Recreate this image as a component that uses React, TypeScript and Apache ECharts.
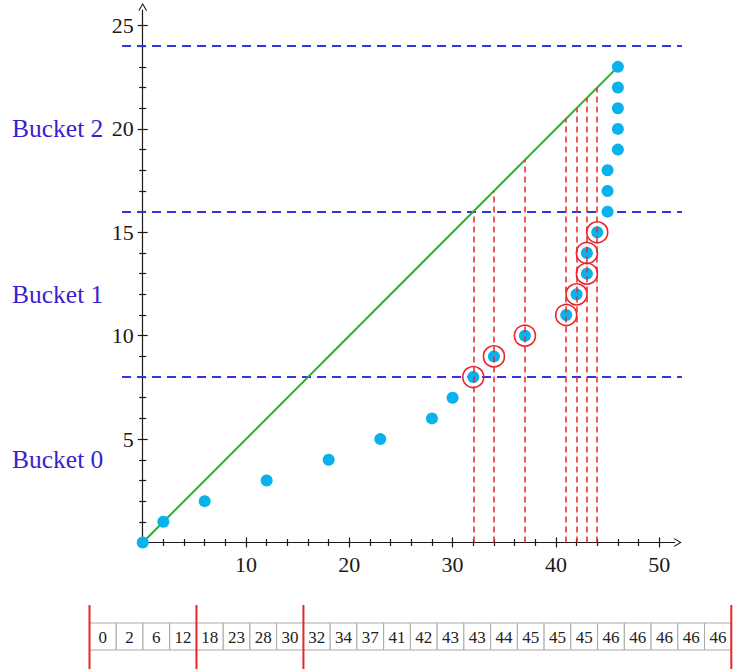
import React, { useEffect, useRef } from 'react';
import * as echarts from 'echarts';

// Sorted input values (also shown in the table below the chart)
const sortedValues = [0, 2, 6, 12, 18, 23, 28, 30, 32, 34, 37, 41, 42, 43, 43, 44, 45, 45, 45, 46, 46, 46, 46, 46];
// indices of the circled points
const circledIndices = [8, 9, 10, 11, 12, 13, 14, 15];
// bucket boundaries (horizontal dashed lines)
const bucketBounds = [8, 16, 24];
const bucketLabels = ['Bucket 0', 'Bucket 1', 'Bucket 2'];
const bucketLabelY = [4, 12, 20];
// red split lines in the table (cell positions)
const tableSplits = [0, 4, 8, 24];
// axis ticks / labels
const xMinorTicks = [0, 2, 4, 6, 8, 12, 14, 16, 18, 22, 24, 26, 28, 32, 34, 36, 38, 42, 44, 46, 48];
const xLabelValues = [10, 20, 30, 40, 50];
const yMinorTicks = [0, 1, 2, 3, 4, 6, 7, 8, 9, 11, 12, 13, 14, 16, 17, 18, 19, 21, 22, 23, 24];
const yLabelValues = [5, 10, 15, 20, 25];

const X_MAX = 51.5;
const Y_MAX = 25.75;
const H_LINE_START = -2;
const H_LINE_END = 52.2;

const CHEVRON = 'path://M5,0 L10,8.6 L9,9.4 L5,2.4 L1,9.4 L0,8.6 Z';

export default function App() {
  const ref = useRef<HTMLDivElement>(null);

  useEffect(() => {
    if (!ref.current) return;
    const chart = echarts.init(ref.current, null, { renderer: 'svg' });

    const points = sortedValues.map((v, i) => [v, i]);
    const lastIdx = sortedValues.length - 1;
    const slope = lastIdx / sortedValues[lastIdx];
    const circled = circledIndices.map((i) => [sortedValues[i], i]);
    const dashXs = Array.from(new Set(circledIndices.map((i) => sortedValues[i])));

    const axisColor = '#1a1a1a';
    const serif = '"Liberation Serif", serif';
    const tickStyle = { color: axisColor, width: 1.2 };

    const tickAxis = (gridIndex: number, pos: string, max: number, values: number[], inside: boolean, len: number) => ({
      gridIndex,
      type: 'value',
      position: pos,
      min: 0,
      max,
      axisLine: { show: false },
      axisTick: { show: true, inside, customValues: values, length: len, lineStyle: tickStyle },
      axisLabel: { show: false },
      splitLine: { show: false },
    });

    const option: any = {
      animation: false,
      backgroundColor: '#ffffff',
      grid: [
        { left: 142.7, top: 10, width: 532, height: 532.5, containLabel: false },
        { left: 89.5, top: 623, width: 641.8, height: 27, containLabel: false },
      ],
      xAxis: [
        {
          gridIndex: 0,
          type: 'value',
          position: 'bottom',
          min: 0,
          max: X_MAX,
          axisLine: {
            show: true,
            symbol: ['none', CHEVRON],
            symbolSize: [9, 8],
            symbolOffset: [0, 3],
            lineStyle: { color: axisColor, width: 1.2 },
          },
          axisTick: { show: true, customValues: xLabelValues, length: 5, lineStyle: tickStyle },
          axisLabel: {
            customValues: xLabelValues,
            margin: 11,
            fontSize: 22,
            fontFamily: serif,
            color: axisColor,
          },
          splitLine: { show: false },
        },
        tickAxis(0, 'bottom', X_MAX, xLabelValues, true, 5),
        tickAxis(0, 'bottom', X_MAX, xMinorTicks, false, 3.5),
        tickAxis(0, 'bottom', X_MAX, xMinorTicks, true, 3.5),
        { gridIndex: 1, type: 'value', min: 0, max: sortedValues.length, show: false },
      ],
      yAxis: [
        {
          gridIndex: 0,
          type: 'value',
          position: 'left',
          min: 0,
          max: Y_MAX,
          axisLine: {
            show: true,
            symbol: ['none', CHEVRON],
            symbolSize: [9, 8],
            symbolOffset: [0, 3],
            lineStyle: { color: axisColor, width: 1.2 },
          },
          axisTick: { show: true, customValues: yLabelValues, length: 5, lineStyle: tickStyle },
          axisLabel: {
            customValues: yLabelValues,
            margin: 9,
            fontSize: 22,
            fontFamily: serif,
            color: axisColor,
          },
          splitLine: { show: false },
        },
        tickAxis(0, 'left', Y_MAX, yLabelValues, true, 5),
        tickAxis(0, 'left', Y_MAX, yMinorTicks, false, 3.5),
        tickAxis(0, 'left', Y_MAX, yMinorTicks, true, 3.5),
        { gridIndex: 1, type: 'value', min: 0, max: 1, show: false },
      ],
      series: [
        {
          name: 'buckets',
          type: 'lines',
          coordinateSystem: 'cartesian2d',
          xAxisIndex: 0,
          yAxisIndex: 0,
          clip: false,
          silent: true,
          z: 2,
          lineStyle: { color: '#3232e6', width: 2, type: [9, 6], opacity: 1 },
          data: bucketBounds.map((b) => ({ coords: [[H_LINE_START, b], [H_LINE_END, b]] })),
        },
        {
          name: 'diagonal',
          type: 'line',
          xAxisIndex: 0,
          yAxisIndex: 0,
          showSymbol: false,
          symbol: 'none',
          silent: true,
          z: 3,
          lineStyle: { color: '#1fb41f', width: 2 },
          data: [[0, 0], [sortedValues[lastIdx], lastIdx]],
        },
        {
          name: 'points',
          type: 'scatter',
          xAxisIndex: 0,
          yAxisIndex: 0,
          clip: false,
          symbol: 'circle',
          symbolSize: 12,
          z: 4,
          itemStyle: { color: '#09b2ec', opacity: 1 },
          data: points,
        },
        {
          name: 'drops',
          type: 'lines',
          coordinateSystem: 'cartesian2d',
          xAxisIndex: 0,
          yAxisIndex: 0,
          clip: false,
          silent: true,
          z: 5,
          lineStyle: { color: '#e8262a', width: 1.5, type: [6, 4], opacity: 1 },
          data: dashXs.map((x) => ({ coords: [[x, 0], [x, x * slope]] })),
        },
        {
          name: 'circled',
          type: 'scatter',
          xAxisIndex: 0,
          yAxisIndex: 0,
          symbol: 'circle',
          symbolSize: 21,
          z: 6,
          itemStyle: { color: 'rgba(0,0,0,0)', borderColor: '#e8262a', borderWidth: 1.6, opacity: 1 },
          data: circled,
        },
        {
          name: 'table',
          type: 'custom',
          xAxisIndex: 4,
          yAxisIndex: 4,
          clip: false,
          z: 2,
          data: sortedValues.map((v, i) => [i, v]),
          renderItem: (params: any, api: any) => {
            const i = api.value(0);
            const v = api.value(1);
            const p0 = api.coord([i, 1]);
            const p1 = api.coord([i + 1, 0]);
            return {
              type: 'group',
              children: [
                {
                  type: 'rect',
                  shape: { x: p0[0], y: p0[1], width: p1[0] - p0[0], height: p1[1] - p0[1] },
                  style: { fill: '#ffffff', stroke: '#a8a8a8', lineWidth: 1 },
                },
                {
                  type: 'text',
                  style: {
                    text: String(v),
                    x: (p0[0] + p1[0]) / 2,
                    y: (p0[1] + p1[1]) / 2 + 1,
                    align: 'center',
                    verticalAlign: 'middle',
                    fontSize: 17,
                    fontFamily: serif,
                    fill: '#222222',
                  },
                },
              ],
            };
          },
        },
        {
          name: 'tableSplits',
          type: 'custom',
          xAxisIndex: 4,
          yAxisIndex: 4,
          clip: false,
          z: 3,
          data: tableSplits.map((s) => [s, 0]),
          renderItem: (params: any, api: any) => {
            const s = api.value(0);
            const top = api.coord([s, 1]);
            const bottom = api.coord([s, 0]);
            return {
              type: 'line',
              shape: { x1: top[0], y1: top[1] - 18, x2: bottom[0], y2: bottom[1] + 20 },
              style: { stroke: '#e8262a', lineWidth: 2 },
            };
          },
        },
      ],
    };

    chart.setOption(option);

    const graphics = bucketLabels.map((label, i) => {
      const p = chart.convertToPixel({ xAxisIndex: 0, yAxisIndex: 0 } as any, [0, bucketLabelY[i]]) as number[];
      return {
        type: 'text',
        x: 12,
        y: p[1],
        style: {
          text: label,
          fontSize: 25.5,
          fontFamily: serif,
          fill: '#3a1fd0',
          align: 'left',
          verticalAlign: 'middle',
        },
      };
    });
    chart.setOption({ graphic: graphics });

    return () => chart.dispose();
  }, []);

  return (
    <div
      ref={ref}
      style={{ position: 'absolute', left: 0, top: 0, width: 733, height: 669 }}
    />
  );
}
